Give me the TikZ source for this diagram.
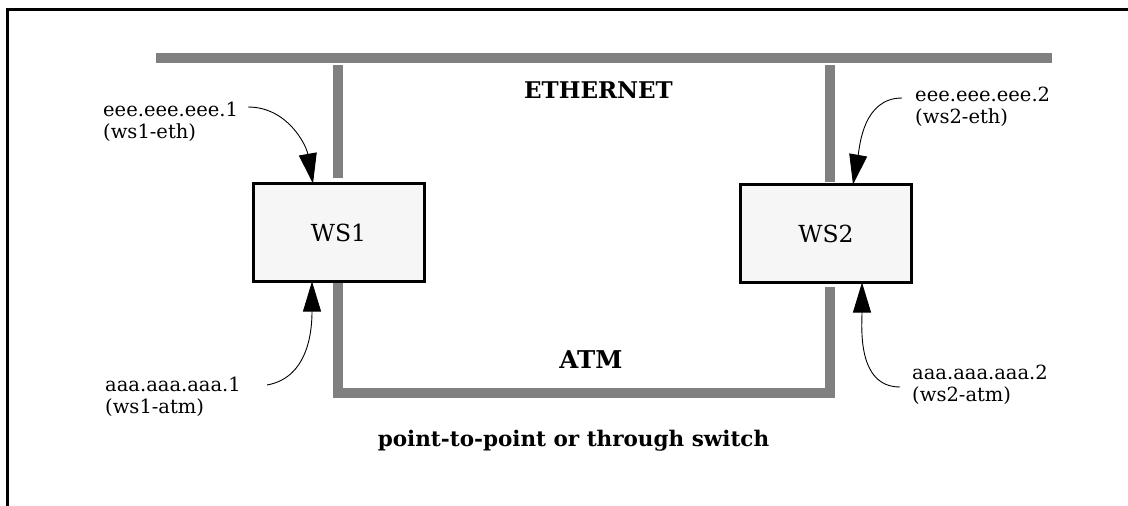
\documentclass[tikz,border=0pt]{standalone}
\usepackage{fontspec}
\setmainfont{DejaVu Serif}
\usetikzlibrary{arrows.meta}
\definecolor{barcol}{RGB}{128,128,128}
\definecolor{boxfill}{RGB}{246,246,246}
\tikzset{
  bar/.style={draw=barcol, line width=10pt, line cap=butt, line join=miter},
  frame/.style={draw=black, line width=3pt},
  ws/.style={draw=black, fill=boxfill, line width=3pt, minimum width=171pt, minimum height=98pt, inner sep=0pt, outer sep=0pt, font=\fontsize{23.5}{26}\selectfont},
  lbl/.style={align=left, inner sep=0pt, anchor=north west, font=\fontsize{19.5}{21.5}\selectfont},
  title/.style={inner sep=0pt, font=\bfseries}
}
\tikzset{ptr/.style={draw=black, line width=0.9pt, -{Triangle[length=30pt,width=18pt]}}}
\begin{document}
\begin{tikzpicture}[x=1pt,y=-1pt]
\useasboundingbox (0,0) rectangle (1128,506);
% frame
\draw[frame] (7.5,506) -- (7.5,9) -- (1128,9);
% ethernet
\draw[bar] (156,58) -- (1052,58);
\draw[bar] (338,65) -- (338,178);
\draw[bar] (829.5,65) -- (829.5,182);
% atm
\draw[bar] (338,281) -- (338,392.5) -- (829.5,392.5) -- (829.5,287);
% boxes
\node[ws] (ws1) at (338.5,232.5) {WS1};
\node[ws] (ws2) at (826,233.5) {WS2};
% titles
\node[title, font=\fontsize{23}{26}\selectfont\bfseries] (eth) at (598.5,90.5) {ETHERNET};
\node[title, font=\fontsize{24.5}{27}\selectfont\bfseries] (atm) at (591,360) {ATM};
\node[title, font=\fontsize{21.5}{24}\selectfont\bfseries] (pp) at (573.5,441) {point-to-point or through switch};
% labels
\node[lbl] (l1) at (103,102) {eee.eee.eee.1\\(ws1-eth)};
\node[lbl] (l2) at (915,87) {eee.eee.eee.2\\(ws2-eth)};
\node[lbl] (l3) at (105,377) {aaa.aaa.aaa.1\\(ws1-atm)};
\node[lbl] (l4) at (912,365) {aaa.aaa.aaa.2\\(ws2-atm)};
% connector start points
\coordinate (s1) at (248,107);
\coordinate (s2) at (902,98);
\coordinate (s3) at (267,385);
\coordinate (s4) at (900,387);
% arrows
\draw[ptr] (s1) to[out=0,in=100] ([xshift=-25.5pt]ws1.north);
\draw[ptr] (s2) to[out=180,in=80] ([xshift=27pt]ws2.north);
\draw[ptr] (s3) to[out=10,in=-90] ([xshift=-26.5pt]ws1.south);
\draw[ptr] (s4) to[out=180,in=-90] ([xshift=36pt]ws2.south);
\end{tikzpicture}
\end{document}
